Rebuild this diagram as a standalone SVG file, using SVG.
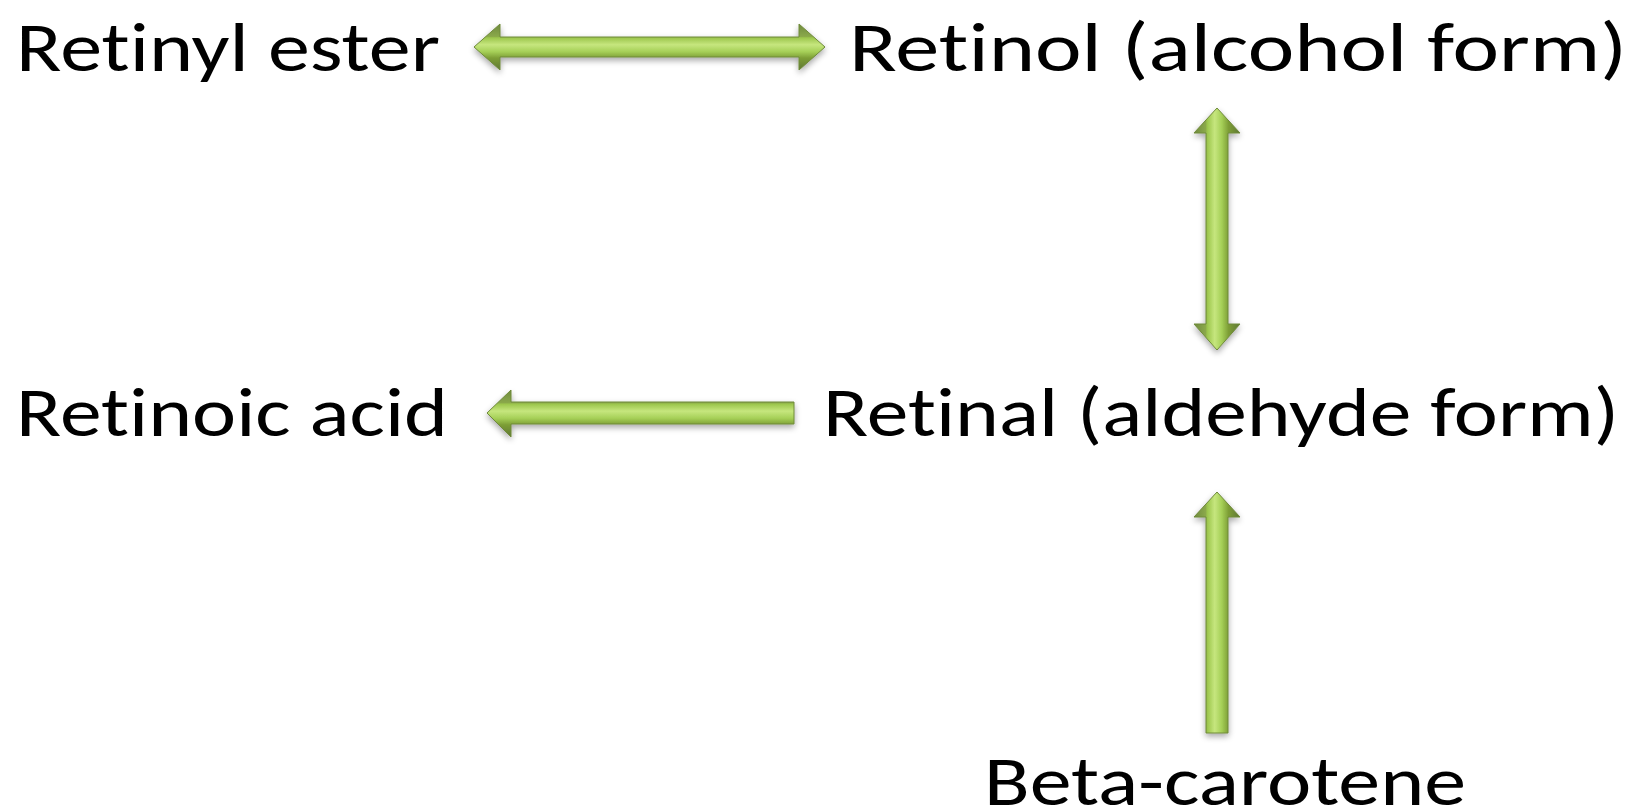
<svg xmlns="http://www.w3.org/2000/svg" width="1648" height="811" viewBox="0 0 1648 811">
<style>
text{font-family:Carlito,Lato,"Open Sans",sans-serif;font-size:69px;fill:#000;font-variant-ligatures:none;}
.ah{fill:url(#gh);filter:url(#sh);stroke:#6f8a3a;stroke-width:1;}
.av{fill:url(#gv);filter:url(#sh);stroke:#6f8a3a;stroke-width:1;}
</style>
<defs>
<linearGradient id="gh" x1="0" y1="0" x2="0" y2="1">
<stop offset="0" stop-color="#6f8a3e"/>
<stop offset="0.27" stop-color="#8aa84a"/>
<stop offset="0.3" stop-color="#9cc64c"/>
<stop offset="0.45" stop-color="#c6e67e"/>
<stop offset="0.6" stop-color="#a6d058"/>
<stop offset="0.74" stop-color="#7d9e36"/>
<stop offset="1" stop-color="#5f7733"/>
</linearGradient>
<linearGradient id="gv" x1="0" y1="0" x2="1" y2="0">
<stop offset="0" stop-color="#6f8a3e"/>
<stop offset="0.25" stop-color="#8aa84a"/>
<stop offset="0.29" stop-color="#9cc64c"/>
<stop offset="0.45" stop-color="#c6e67e"/>
<stop offset="0.6" stop-color="#a6d058"/>
<stop offset="0.75" stop-color="#7d9e36"/>
<stop offset="1" stop-color="#5f7733"/>
</linearGradient>
<filter id="sh" x="-20%" y="-20%" width="140%" height="160%">
<feGaussianBlur in="SourceAlpha" stdDeviation="3"/>
<feOffset dx="0" dy="3" result="b"/>
<feComponentTransfer><feFuncA type="linear" slope="0.35"/></feComponentTransfer>
<feMerge><feMergeNode/><feMergeNode in="SourceGraphic"/></feMerge>
</filter>
</defs>
<g id="connectors">
<polygon id="c1" class="ah" points="474,47 500,24 500,37 799,37 799,24 825,47 799,70 799,57 500,57 500,70"/>
<polygon id="c2" class="av" points="1217,108 1240,133 1228,133 1228,324 1240,324 1217,350 1194,324 1206,324 1206,133 1194,133"/>
<polygon id="c3" class="ah" points="487,413 511,390 511,402 794,402 794,424 511,424 511,437"/>
<polygon id="c4" class="av" points="1217,492 1240,517 1228,517 1228,733 1206,733 1206,517 1194,517"/>
</g>
<g id="n-retinyl-ester"><text x="16" y="71" textLength="424" lengthAdjust="spacingAndGlyphs">Retinyl ester</text></g>
<g id="n-retinol"><text x="849" y="71" textLength="778" lengthAdjust="spacingAndGlyphs">Retinol (alcohol form)</text></g>
<g id="n-retinoic-acid"><text x="16" y="436" textLength="432" lengthAdjust="spacingAndGlyphs">Retinoic acid</text></g>
<g id="n-retinal"><text x="823" y="436" textLength="796" lengthAdjust="spacingAndGlyphs">Retinal (aldehyde form)</text></g>
<g id="n-beta-carotene"><text x="984" y="805" textLength="482" lengthAdjust="spacingAndGlyphs">Beta-carotene</text></g>
</svg>
